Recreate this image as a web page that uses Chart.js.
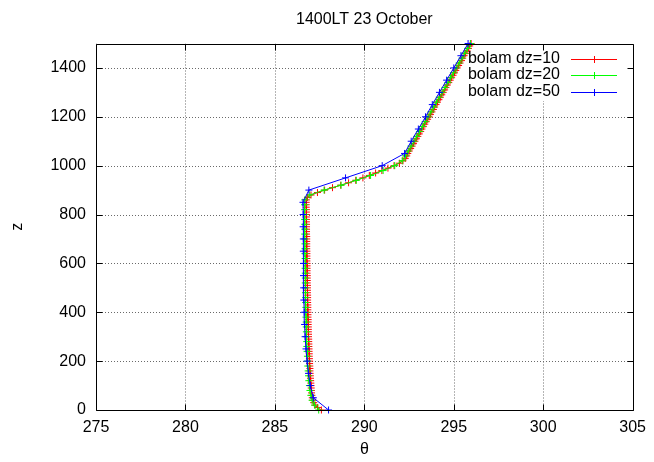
<!DOCTYPE html>
<html>
<head>
<meta charset="utf-8">
<script src="https://cdn.jsdelivr.net/npm/chart.js@4"></script>
<style>
  html, body { margin: 0; padding: 0; background: #fff; }
  canvas { display: block; }
</style>
</head>
<body>
<canvas id="c" width="654" height="462" style="width:654px;height:462px"></canvas>
<script>
// Potential temperature profiles, 1400LT 23 October, three vertical spacings
const chartTitle = '1400LT 23 October';
const xTitle = 'θ';
const yTitle = 'z';
const xTicks = [275, 280, 285, 290, 295, 300, 305];
const yTicks = [0, 200, 400, 600, 800, 1000, 1200, 1400];
const seriesNames = ['bolam dz=10', 'bolam dz=20', 'bolam dz=50'];
const seriesDz = [10, 20, 50];
const seriesColors = ['#ff0000', '#00ff00', '#0000ff'];

// theta (K) at z = 0, 10, 20, ... 1500 m
const thetaDz10 = [
  287.60, 287.38, 287.25, 287.17, 287.12, 287.09, 287.07, 287.05, 287.04, 287.03,
  287.02, 287.01, 287.00, 286.99, 286.98, 286.97, 286.96, 286.96, 286.95, 286.94,
  286.94, 286.93, 286.92, 286.92, 286.91, 286.91, 286.90, 286.90, 286.89, 286.89,
  286.88, 286.88, 286.87, 286.87, 286.87, 286.86, 286.86, 286.86, 286.85, 286.85,
  286.85, 286.84, 286.84, 286.84, 286.83, 286.83, 286.83, 286.83, 286.82, 286.82,
  286.82, 286.82, 286.81, 286.81, 286.81, 286.81, 286.80, 286.80, 286.80, 286.80,
  286.80, 286.79, 286.79, 286.79, 286.79, 286.79, 286.78, 286.78, 286.78, 286.78,
  286.78, 286.78, 286.77, 286.77, 286.77, 286.77, 286.77, 286.76, 286.76, 286.76,
  286.76, 286.76, 286.76, 286.75, 286.75, 286.75, 286.76, 286.82, 287.02, 287.38,
  287.78, 288.22, 288.68, 289.12, 289.52, 289.92, 290.28, 290.63, 290.98, 291.32,
  291.66, 291.96, 292.16, 292.29, 292.37, 292.43, 292.51, 292.59, 292.67, 292.75,
  292.83, 292.91, 292.99, 293.07, 293.15, 293.22, 293.30, 293.38, 293.46, 293.54,
  293.62, 293.70, 293.78, 293.86, 293.93, 294.01, 294.09, 294.17, 294.25, 294.33,
  294.41, 294.49, 294.56, 294.64, 294.72, 294.80, 294.88, 294.96, 295.04, 295.11,
  295.19, 295.27, 295.35, 295.43, 295.50, 295.58, 295.66, 295.74, 295.82, 295.89,
  295.97
];

// theta (K) at z = 0, 20, 40, ... 1500 m
const thetaDz20 = [
  287.45, 287.22, 287.08, 287.01, 286.96, 286.93, 286.90, 286.88, 286.86, 286.84,
  286.83, 286.82, 286.80, 286.79, 286.78, 286.77, 286.76, 286.75, 286.75, 286.74,
  286.73, 286.73, 286.72, 286.72, 286.71, 286.71, 286.70, 286.70, 286.70, 286.69,
  286.69, 286.69, 286.68, 286.68, 286.68, 286.67, 286.67, 286.67, 286.67, 286.66,
  286.66, 286.66, 286.66, 286.67, 286.95, 287.75, 288.70, 289.55, 290.35, 291.05,
  291.70, 292.12, 292.30, 292.45, 292.61, 292.77, 292.93, 293.09, 293.24, 293.40,
  293.56, 293.72, 293.88, 294.03, 294.19, 294.35, 294.51, 294.67, 294.82, 294.98,
  295.14, 295.30, 295.46, 295.61, 295.77, 295.93
];

// theta (K) at z = 0, 50, 100, ... 1500 m
const thetaDz50 = [
  288.00, 287.15, 286.98, 286.88, 286.80, 286.74, 286.69, 286.66, 286.64, 286.62,
  286.61, 286.60, 286.60, 286.59, 286.59, 286.58, 286.58, 286.57, 286.90, 288.95,
  291.00, 292.25, 292.62, 293.02, 293.42, 293.80, 294.20, 294.60, 295.00, 295.40,
  295.80
];

const seriesTheta = [thetaDz10, thetaDz20, thetaDz50];

const FONT_FAMILY = '"Liberation Sans", Arial, sans-serif';
const FONT = '16px ' + FONT_FAMILY;
const MARK_R = 3.5;

// heights of the model levels for a given spacing
function profile(theta, dz) {
  return theta.map((t, i) => ({ x: t, y: i * dz }));
}

// region of the key, kept clear of grid lines
function keyBox(a) {
  return { left: 454, top: a.top, right: a.right, bottom: 101 };
}

function cross(ctx, cx, cy, r) {
  ctx.moveTo(cx - r, cy); ctx.lineTo(cx + r, cy);
  ctx.moveTo(cx, cy - r); ctx.lineTo(cx, cy + r);
}

const frame = {
  id: 'frame',
  beforeDatasetsDraw(chart) {
    const { ctx, chartArea: a, scales: { x, y } } = chart;
    const k = keyBox(a);
    ctx.save();
    ctx.beginPath();
    ctx.rect(a.left, a.top, a.right - a.left, a.bottom - a.top);
    ctx.rect(k.left, k.top, k.right - k.left, k.bottom - k.top);
    ctx.clip('evenodd');
    ctx.strokeStyle = '#6a6a6a';
    ctx.lineWidth = 1;
    ctx.setLineDash([1, 2]);
    ctx.beginPath();
    xTicks.forEach(v => {
      const px = Math.round(x.getPixelForValue(v)) + 0.5;
      ctx.moveTo(px, a.top); ctx.lineTo(px, a.bottom);
    });
    yTicks.forEach(v => {
      const py = Math.round(y.getPixelForValue(v)) + 0.5;
      ctx.moveTo(a.left, py); ctx.lineTo(a.right, py);
    });
    ctx.stroke();
    ctx.restore();
  },
  afterDatasetsDraw(chart) {
    const { ctx, chartArea: a, scales: { x, y } } = chart;
    const L = Math.round(a.left) + 0.5, R = Math.round(a.right) + 0.5;
    const T = Math.round(a.top) + 0.5, B = Math.round(a.bottom) + 0.5;
    const tl = 6;
    ctx.save();
    ctx.strokeStyle = '#000';
    ctx.lineWidth = 1;
    ctx.setLineDash([]);
    ctx.beginPath();
    ctx.rect(L, T, R - L, B - T);
    xTicks.forEach(v => {
      const px = Math.round(x.getPixelForValue(v)) + 0.5;
      ctx.moveTo(px, B); ctx.lineTo(px, B - tl);
      ctx.moveTo(px, T); ctx.lineTo(px, T + tl);
    });
    yTicks.forEach(v => {
      const py = Math.round(y.getPixelForValue(v)) + 0.5;
      ctx.moveTo(L, py); ctx.lineTo(L + tl, py);
      ctx.moveTo(R, py); ctx.lineTo(R - tl, py);
    });
    ctx.stroke();

    // key
    ctx.font = FONT;
    ctx.textBaseline = 'middle';
    ctx.textAlign = 'right';
    seriesNames.forEach((name, i) => {
      const cy = a.top + 15 + i * 16.5;
      ctx.fillStyle = '#000';
      ctx.fillText(name, 560, cy);
      const ly = Math.round(cy) + 0.5;
      ctx.strokeStyle = seriesColors[i];
      ctx.beginPath();
      ctx.moveTo(571, ly); ctx.lineTo(617, ly);
      cross(ctx, 594.5, ly, MARK_R);
      ctx.stroke();
    });

    // titles
    ctx.fillStyle = '#000';
    ctx.textAlign = 'center';
    ctx.fillText(chartTitle, (a.left + a.right) / 2, 20);
    ctx.fillText(xTitle, (a.left + a.right) / 2, 450);
    ctx.translate(18, (a.top + a.bottom) / 2);
    ctx.rotate(-Math.PI / 2);
    ctx.fillText(yTitle, 0, 0);
    ctx.restore();
  }
};

const datasets = seriesNames.map((name, i) => ({
  label: name,
  data: profile(seriesTheta[i], seriesDz[i]),
  borderColor: seriesColors[i],
  backgroundColor: seriesColors[i],
  borderWidth: 1,
  showLine: true,
  fill: false,
  tension: 0,
  pointStyle: 'cross',
  pointRadius: MARK_R,
  pointBorderWidth: 1,
  pointBorderColor: seriesColors[i],
  clip: false,
  order: seriesNames.length - i
}));

new Chart(document.getElementById('c'), {
  type: 'scatter',
  data: { datasets },
  options: {
    responsive: false,
    animation: false,
    devicePixelRatio: 1,
    events: [],
    layout: { padding: { top: 43.5, right: 18, left: 0, bottom: 0 } },
    plugins: { legend: { display: false }, tooltip: { enabled: false }, title: { display: false } },
    scales: {
      x: {
        type: 'linear',
        min: 275, max: 305,
        afterBuildTicks: s => { s.ticks = xTicks.map(v => ({ value: v })); },
        afterFit: s => { s.height = 52; },
        grid: { display: false, drawTicks: false },
        border: { display: false },
        ticks: {
          color: '#000', padding: 8, maxRotation: 0, autoSkip: false,
          callback: v => String(v),
          font: { family: FONT_FAMILY, size: 16 }
        }
      },
      y: {
        type: 'linear',
        min: 0, max: 1500,
        afterBuildTicks: s => { s.ticks = yTicks.map(v => ({ value: v })); },
        afterFit: s => { s.width = 96; },
        grid: { display: false, drawTicks: false },
        border: { display: false },
        ticks: {
          color: '#000', padding: 10, autoSkip: false,
          callback: v => String(v),
          font: { family: FONT_FAMILY, size: 16 }
        }
      }
    }
  },
  plugins: [frame]
});
</script>
</body>
</html>
